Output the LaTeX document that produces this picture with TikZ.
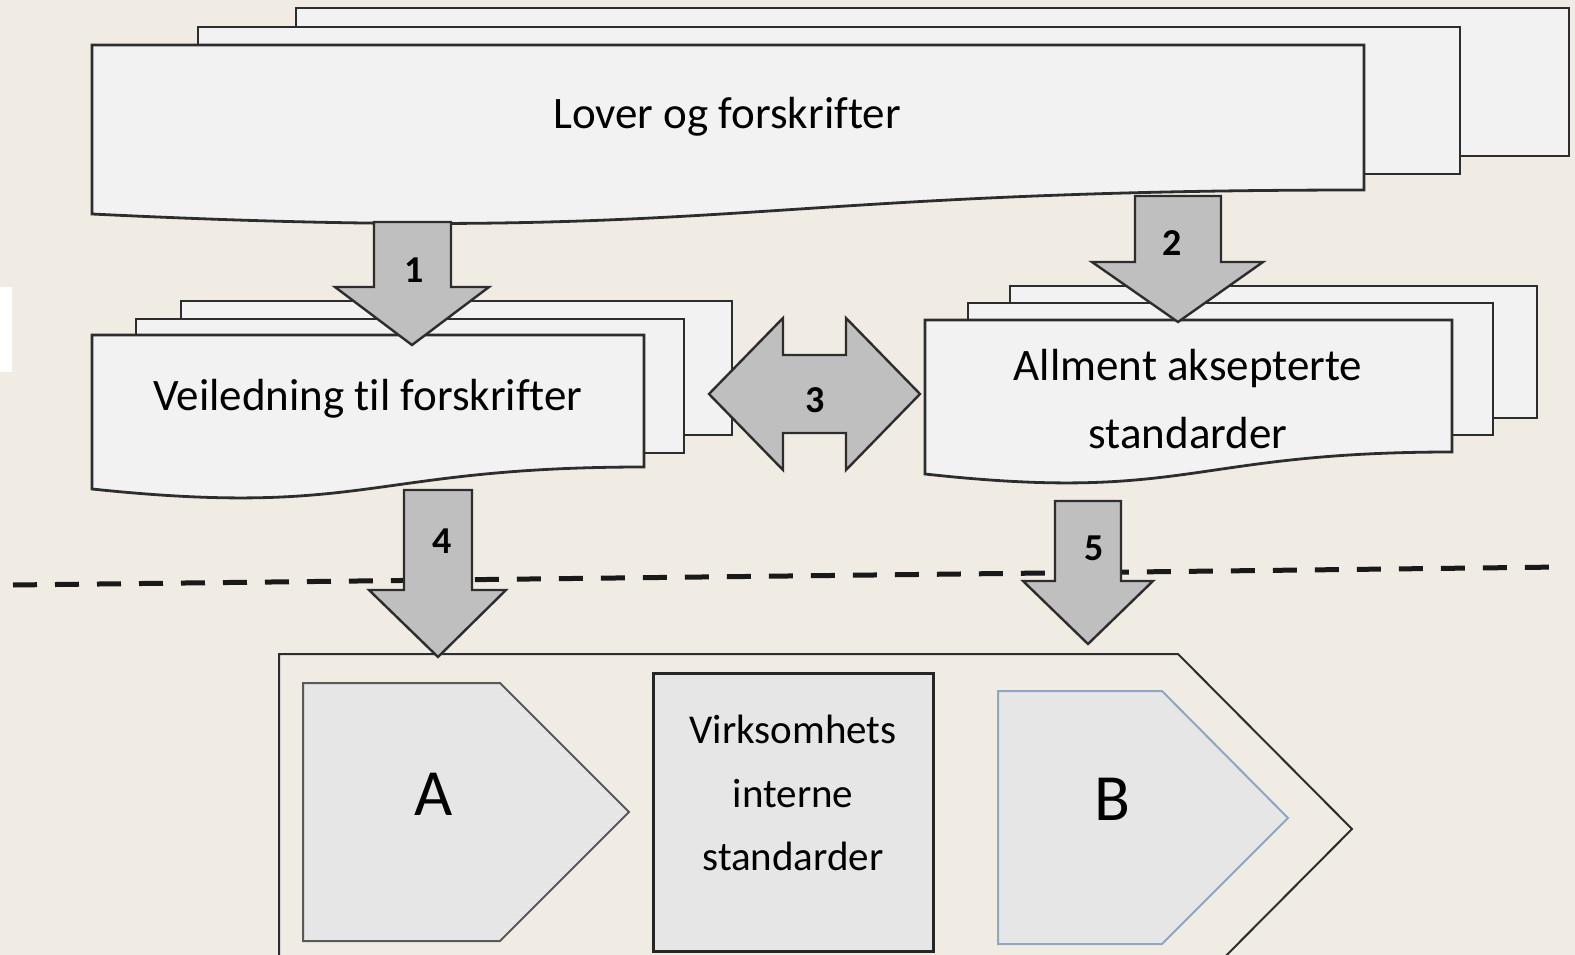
\documentclass[tikz,border=0pt]{standalone}
\usepackage{fontspec}
\setmainfont[Ligatures=NoCommon]{Carlito}
\definecolor{bg}{RGB}{240,236,228}
\definecolor{docfill}{RGB}{242,242,242}
\definecolor{docline}{RGB}{45,45,45}
\definecolor{arrowfill}{RGB}{191,191,191}
\definecolor{boxfill}{RGB}{230,230,230}
\definecolor{bline}{RGB}{140,168,194}
\begin{document}
\begin{tikzpicture}[x=1pt,y=-1pt,
  sheet/.style={fill=docfill,draw=docline,line width=2.8pt,line join=miter},
  blockarrow/.style={fill=arrowfill,draw=docline,line width=2.4pt,line join=miter},
  doctext/.style={font=\fontsize{45}{54}\selectfont,inner sep=0pt,anchor=base},
  boxtext/.style={font=\fontsize{41}{50}\selectfont,inner sep=0pt,anchor=base},
  bigletter/.style={font=\fontsize{66}{70}\selectfont,inner sep=0pt,anchor=base},
  numlabel/.style={font=\bfseries\fontsize{38}{40}\selectfont,inner sep=0pt,anchor=base}]
\useasboundingbox (0,0) rectangle (1575,955);
\clip (0,0) rectangle (1575,955);
\fill[bg] (0,0) rectangle (1575,955);
\fill[white] (0,287) rectangle (12,372);

% big outer chevron
\draw[fill=bg,draw=docline,line width=2pt] (279,1020) -- (279,654) -- (1178,654) -- (1352,829) -- (1178,1004);

% dashed separator
\draw[line width=5pt,dash pattern=on 24pt off 18pt,black!90] (13,585) -- (1562,567);

% top document stack
\draw[sheet] (296,8) rectangle (1569,156);
\draw[sheet] (198,27) rectangle (1460,174);
\draw[sheet] (92,45) -- (1364,45) -- (1364,190) .. controls (728,190) and (728,245) .. (92,214) -- cycle;
\node[doctext] (lover) at (727,129) {Lover og forskrifter};

% left document stack
\draw[sheet] (181,301) rectangle (732,435);
\draw[sheet] (136,319) rectangle (684,453);
\draw[sheet] (92,335) -- (644,335) -- (644,467) .. controls (368,467) and (368,518) .. (92,489) -- cycle;
\node[doctext] (veil) at (368,410) {Veiledning til forskrifter};

% right document stack
\draw[sheet] (1010,286) rectangle (1537,418);
\draw[sheet] (968,303) rectangle (1493,435);
\draw[sheet] (925,320) -- (1452,320) -- (1452,452) .. controls (1188,452) and (1188,503) .. (925,474) -- cycle;
\node[doctext] (allment1) at (1188,380) {Allment aksepterte};
\node[doctext] (allment2) at (1188,448) {standarder};

% block arrows
\draw[blockarrow] (374,222) -- (451,222) -- (451,287) -- (489,287) -- (412,345) -- (335,287) -- (374,287) -- cycle;
\node[numlabel] (n1) at (414,282) {1};
\draw[blockarrow] (1135,196) -- (1221,196) -- (1221,262) -- (1263,262) -- (1178,322) -- (1092,262) -- (1135,262) -- cycle;
\node[numlabel] (n2) at (1172,255) {2};
\draw[blockarrow] (709,394) -- (783,318) -- (783,355) -- (846,355) -- (846,318) -- (920,394) -- (846,470) -- (846,433) -- (783,433) -- (783,470) -- cycle;
\node[numlabel] (n3) at (815,412) {3};
\draw[blockarrow] (404,490) -- (472,490) -- (472,590) -- (506,590) -- (438,657) -- (369,590) -- (404,590) -- cycle;
\node[numlabel] (n4) at (442,553) {4};
\draw[blockarrow] (1055,501) -- (1121,501) -- (1121,581) -- (1153,581) -- (1088,644) -- (1023,581) -- (1055,581) -- cycle;
\node[numlabel] (n5) at (1094,560) {5};

% bottom boxes
\draw[fill=boxfill,draw=black!65,line width=2pt,line join=miter] (303,683) -- (500,683) -- (629,812) -- (500,941) -- (303,941) -- cycle;
\node[bigletter] (A) at (434,815) {A};
\draw[fill=boxfill,draw=black!85,line width=3pt] (653,673) rectangle (933,951);
\node[boxtext] (v1) at (793,743) {Virksomhets};
\node[boxtext] (v2) at (793,807) {interne};
\node[boxtext] (v3) at (793,870) {standarder};
\draw[fill=boxfill,draw=bline,line width=2pt,line join=miter] (998,691) -- (1162,691) -- (1288,818) -- (1162,944) -- (998,944) -- cycle;
\node[bigletter] (B) at (1112,820) {B};
\end{tikzpicture}
\end{document}
